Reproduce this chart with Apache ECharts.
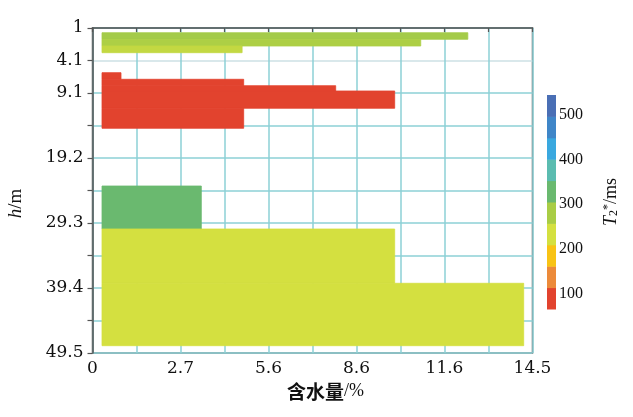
<!DOCTYPE html>
<html><head><meta charset="utf-8">
<script src="https://cdn.jsdelivr.net/npm/echarts@6/dist/echarts.min.js"></script>
<style>html,body{margin:0;padding:0;background:#fff}#c{width:633px;height:417px}</style>
</head><body><div id="c"></div>
<script>
// tick labels (axes are drawn in uniform tick-step units, labelled as in the source figure)
const xTickLabels = ['0','','2.7','','5.6','','8.6','','11.6','','14.5'];
const yTickLabels = ['1','4.1','9.1','','19.2','','29.3','','39.4','','49.5'];

// layers: depth band (tick-step units from the top), water-content extent (tick-step units), T2* (ms)
const layerTop    = [0.145, 0.348, 0.554, 1.375, 1.578, 1.775, 1.938, 2.470, 4.862, 6.185, 7.855];
const layerBottom = [0.348, 0.554, 0.760, 1.578, 1.775, 1.938, 2.470, 3.086, 6.185, 7.855, 9.775];
const layerStart  = [0.216, 0.216, 0.216, 0.216, 0.216, 0.216, 0.216, 0.216, 0.216, 0.216, 0.216];
const layerEnd    = [8.53, 7.46, 3.40, 0.648, 3.436, 5.527, 6.868, 3.436, 2.473, 6.868, 9.80];
const layerT2     = [285, 277, 252, 89, 89, 89, 89, 89, 329, 233, 233];

// colour bar
const colorbarEdges  = [65, 113, 161, 209, 257, 305, 353, 401, 449, 497, 545];
const colorbarColors = ['#e2432e','#ec8a3a','#f8c315','#d4e040','#a9cd45','#6ab96f','#5bbcb0','#3aa8df','#3f86c8','#4a6fb5'];
const colorbarLabels = [100, 200, 300, 400, 500];
const colorStopValues = [89, 521];

const layerData = layerTop.map((t, i) => [layerStart[i], layerEnd[i], t, layerBottom[i], layerT2[i]]);
const cbData = colorbarColors.map((c, i) => [colorbarEdges[i], colorbarEdges[i + 1], i]);

const serif = 'DejaVu Serif';
const chart = echarts.init(document.getElementById('c'));
chart.setOption({
  animation: false,
  backgroundColor: '#fff',
  grid: [
    {left: 92.5, top: 28, width: 440, height: 325, outerBoundsMode: 'none', containLabel: false,
     show: true, borderColor: '#666', borderWidth: 1.5, backgroundColor: 'transparent'},
    {left: 547, top: 95, width: 9, height: 214, outerBoundsMode: 'none', containLabel: false}
  ],
  visualMap: {
    show: false, type: 'continuous', seriesIndex: 0, dimension: 4,
    min: colorStopValues[0], max: colorStopValues[1],
    inRange: {color: colorbarColors}
  },
  xAxis: [
    {
      type: 'value', gridIndex: 0, min: 0, max: 10, interval: 1,
      name: '{cn|含水量}{t|/%}', nameLocation: 'middle', nameGap: 29,
      nameTextStyle: {padding: [0, 0, 0, 26], rich: {
        cn: {fontFamily: 'Noto Sans CJK SC', fontWeight: 'bold', fontSize: 19, color: '#111'},
        t: {fontFamily: 'Liberation Serif', fontSize: 18, color: '#111'}
      }},
      axisLine: {show: true, lineStyle: {color: '#555', width: 1.5}},
      axisTick: {show: true, inside: false, length: 4, lineStyle: {color: '#555', width: 1.2}},
      axisLabel: {margin: 7, fontFamily: serif, fontSize: 17, color: '#111',
        formatter: (v) => xTickLabels[Math.round(v)] || ''},
      splitLine: {show: true, lineStyle: {color: '#8dd0d6', width: 1.5}}
    },
    {type: 'value', gridIndex: 1, min: 0, max: 1, show: false}
  ],
  yAxis: [
    {
      type: 'value', gridIndex: 0, min: 0, max: 10, interval: 1, inverse: true,
      name: '{i|h}{t|/m}', nameLocation: 'middle', nameGap: 67, nameRotate: 90,
      nameTextStyle: {padding: [0, 26, 0, 0], rich: {
        i: {fontFamily: 'Liberation Serif', fontStyle: 'italic', fontSize: 19, color: '#111'},
        t: {fontFamily: 'Liberation Serif', fontSize: 19, color: '#111'}
      }},
      axisLine: {show: true, lineStyle: {color: '#555', width: 1.5}},
      axisTick: {show: true, inside: false, length: 5, lineStyle: {color: '#555', width: 1.2}},
      axisLabel: {margin: 9, fontFamily: serif, fontSize: 17, color: '#111',
        formatter: (v) => yTickLabels[Math.round(v)] || ''},
      splitLine: {show: true, lineStyle: {color: ['#8dd0d6','#cde0e4','#8dd0d6','#8dd0d6','#8dd0d6','#8dd0d6','#8dd0d6','#8dd0d6','#8dd0d6','#8dd0d6','#8dd0d6'], width: 1.5}}
    },
    {
      type: 'value', gridIndex: 1, min: colorbarEdges[0], max: colorbarEdges[colorbarEdges.length - 1], position: 'right',
      name: '{i|T}{sub|2}{sup|*}{t|/ms}', nameLocation: 'middle', nameGap: 46, nameRotate: 90,
      nameTextStyle: {rich: {
        i: {fontFamily: 'Liberation Serif', fontStyle: 'italic', fontSize: 18, color: '#111'},
        sub: {fontFamily: 'Liberation Serif', fontSize: 12, color: '#111', verticalAlign: 'bottom', padding: [6, 0, 0, 0]},
        sup: {fontFamily: 'Liberation Serif', fontSize: 12, color: '#111', verticalAlign: 'top', padding: [0, 0, 6, 0]},
        t: {fontFamily: 'Liberation Serif', fontSize: 18, color: '#111'}
      }},
      axisLine: {show: false}, axisTick: {show: false}, splitLine: {show: false},
      axisLabel: {margin: 3, fontFamily: 'Liberation Serif', fontSize: 16, color: '#111', customValues: colorbarLabels}
    }
  ],
  series: [
    {
      type: 'custom', xAxisIndex: 0, yAxisIndex: 0,
      encode: {x: [0, 1], y: [2, 3]},
      data: layerData,
      renderItem: (params, api) => {
        const p0 = api.coord([api.value(0), api.value(2)]);
        const p1 = api.coord([api.value(1), api.value(3)]);
        const c = api.visual('color');
        return {type: 'rect', shape: {x: p0[0], y: Math.min(p0[1], p1[1]), width: p1[0] - p0[0], height: Math.abs(p1[1] - p0[1])},
          style: {fill: c, stroke: c, lineWidth: 0.8}};
      }
    },
    {
      type: 'custom', xAxisIndex: 1, yAxisIndex: 1,
      encode: {y: [0, 1]},
      data: cbData,
      renderItem: (params, api) => {
        const p0 = api.coord([0, api.value(0)]);
        const p1 = api.coord([1, api.value(1)]);
        return {type: 'rect', shape: {x: p0[0], y: p1[1], width: p1[0] - p0[0], height: p0[1] - p1[1] + 0.5},
          style: {fill: colorbarColors[api.value(2)]}};
      }
    }
  ]
});
</script></body></html>
